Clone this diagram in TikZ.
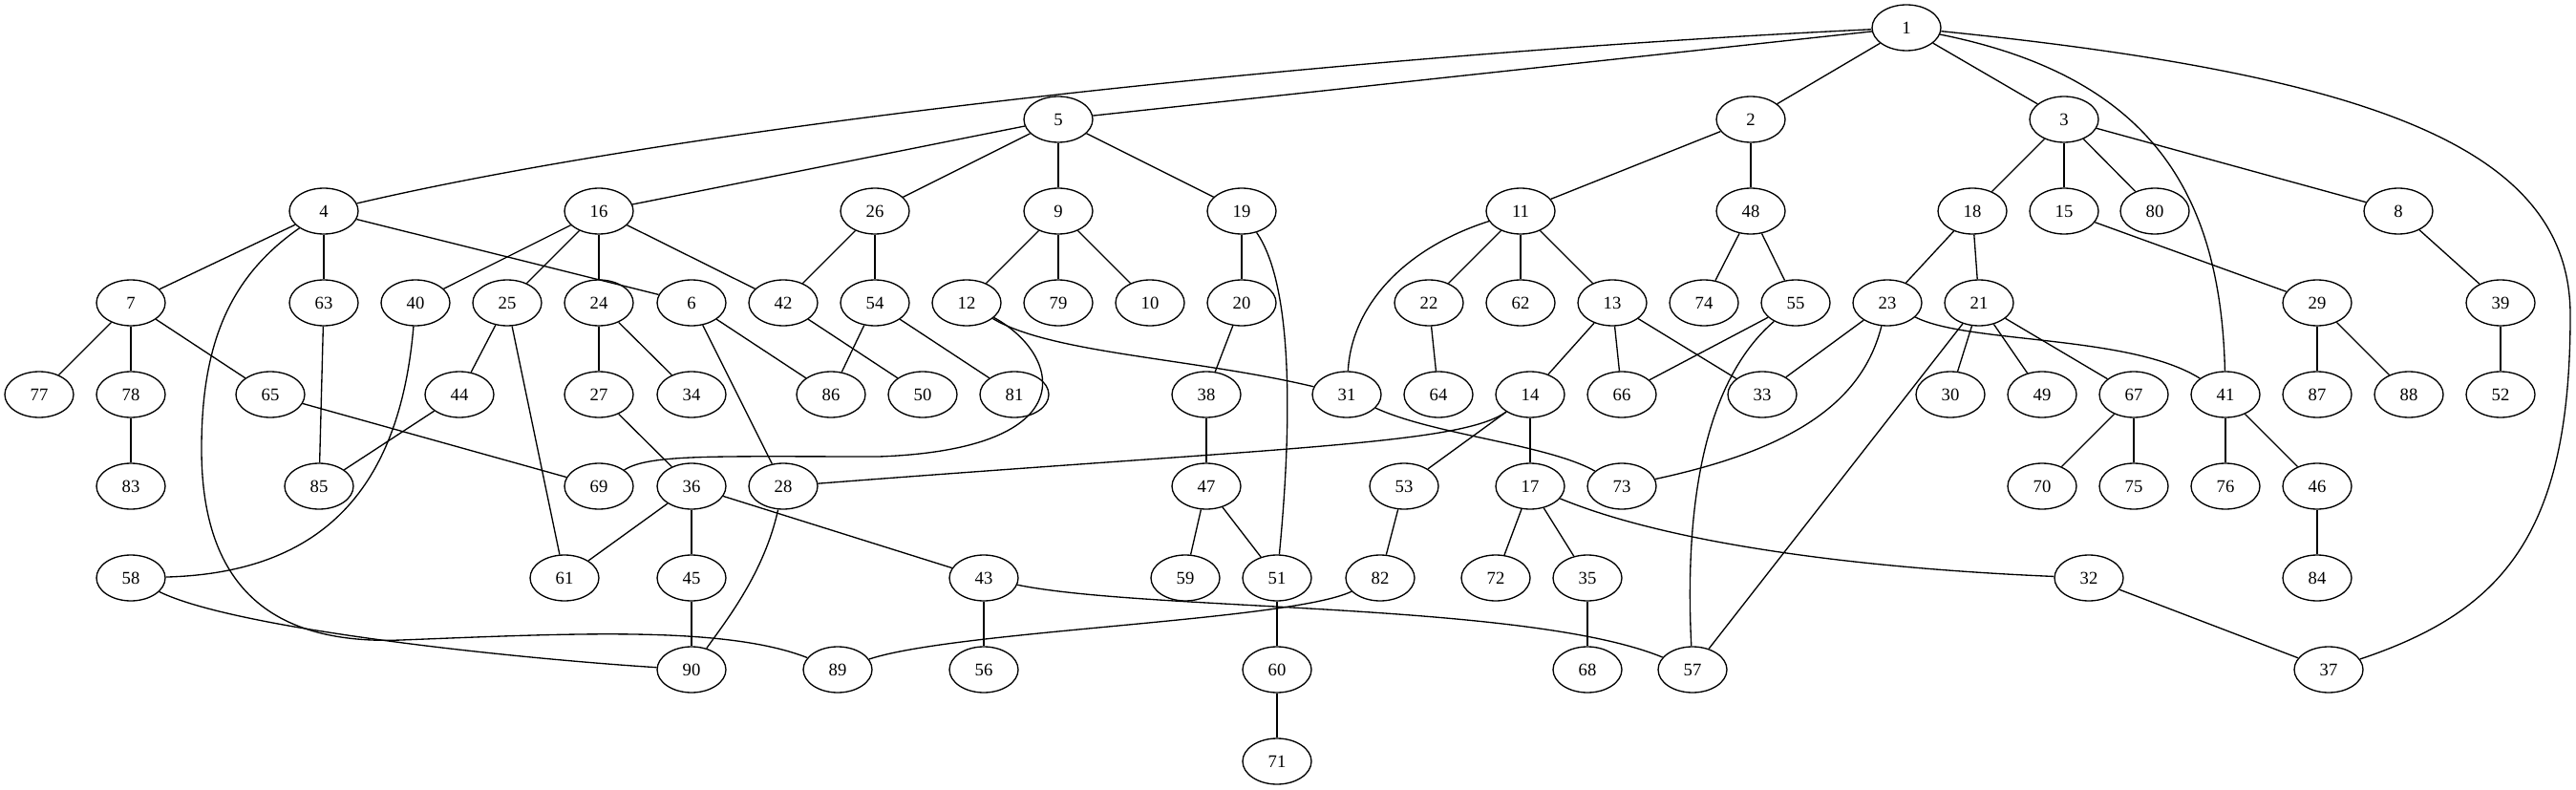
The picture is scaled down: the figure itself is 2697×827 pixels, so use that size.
\documentclass[tikz,border=0pt]{standalone}
\usepackage{fontspec}
\setmainfont{Liberation Serif}
\usetikzlibrary{shapes.geometric}

\begin{document}
\begin{tikzpicture}[x=0.75pt,y=-0.75pt,line width=1pt,
  v/.style={draw,ellipse,minimum width=54pt,minimum height=36pt,inner sep=0pt,
    font=\fontsize{14}{16}\selectfont}]
\useasboundingbox (0,0) rectangle (2697,827);
\node[v](1) at (1996,29) {1};
\node[v](5) at (1108,125) {5};
\node[v](2) at (1833,125) {2};
\node[v](3) at (2161,125) {3};
\node[v](4) at (339,221) {4};
\node[v](16) at (627,221) {16};
\node[v](26) at (916,221) {26};
\node[v](9) at (1108,221) {9};
\node[v](19) at (1300,221) {19};
\node[v](11) at (1592,221) {11};
\node[v](48) at (1833,221) {48};
\node[v](18) at (2065,221) {18};
\node[v](15) at (2161,221) {15};
\node[v](80) at (2256,221) {80};
\node[v](8) at (2511,221) {8};
\node[v](7) at (137,317) {7};
\node[v](63) at (339,317) {63};
\node[v](40) at (435,317) {40};
\node[v](25) at (531,317) {25};
\node[v](24) at (627,317) {24};
\node[v](6) at (724,317) {6};
\node[v](42) at (820,317) {42};
\node[v](54) at (916,317) {54};
\node[v](12) at (1012,317) {12};
\node[v](79) at (1108,317) {79};
\node[v](10) at (1204,317) {10};
\node[v](20) at (1300,317) {20};
\node[v](22) at (1496,317) {22};
\node[v](62) at (1592,317) {62};
\node[v](13) at (1688,317) {13};
\node[v](74) at (1784,317) {74};
\node[v](55) at (1880,317) {55};
\node[v](23) at (1976,317) {23};
\node[v](21) at (2072,317) {21};
\node[v](29) at (2426,317) {29};
\node[v](39) at (2618,317) {39};
\node[v](77) at (41,413) {77};
\node[v](78) at (137,413) {78};
\node[v](65) at (283,413) {65};
\node[v](44) at (481,413) {44};
\node[v](27) at (627,413) {27};
\node[v](34) at (724,413) {34};
\node[v](86) at (870,413) {86};
\node[v](50) at (966,413) {50};
\node[v](81) at (1062,413) {81};
\node[v](38) at (1263,413) {38};
\node[v](31) at (1410,413) {31};
\node[v](64) at (1506,413) {64};
\node[v](14) at (1602,413) {14};
\node[v](66) at (1698,413) {66};
\node[v](33) at (1845,413) {33};
\node[v](30) at (2042,413) {30};
\node[v](49) at (2138,413) {49};
\node[v](67) at (2234,413) {67};
\node[v](41) at (2330,413) {41};
\node[v](87) at (2426,413) {87};
\node[v](88) at (2522,413) {88};
\node[v](52) at (2618,413) {52};
\node[v](83) at (137,509) {83};
\node[v](85) at (334,509) {85};
\node[v](69) at (627,509) {69};
\node[v](36) at (724,509) {36};
\node[v](28) at (820,509) {28};
\node[v](47) at (1263,509) {47};
\node[v](53) at (1470,509) {53};
\node[v](17) at (1602,509) {17};
\node[v](73) at (1698,509) {73};
\node[v](70) at (2138,509) {70};
\node[v](75) at (2234,509) {75};
\node[v](76) at (2330,509) {76};
\node[v](46) at (2426,509) {46};
\node[v](58) at (137,605) {58};
\node[v](61) at (591,605) {61};
\node[v](45) at (724,605) {45};
\node[v](43) at (1030,605) {43};
\node[v](59) at (1241,605) {59};
\node[v](51) at (1337,605) {51};
\node[v](82) at (1445,605) {82};
\node[v](72) at (1566,605) {72};
\node[v](35) at (1662,605) {35};
\node[v](32) at (2187,605) {32};
\node[v](84) at (2426,605) {84};
\node[v](90) at (724,701) {90};
\node[v](89) at (877,701) {89};
\node[v](56) at (1030,701) {56};
\node[v](60) at (1337,701) {60};
\node[v](68) at (1662,701) {68};
\node[v](57) at (1772,701) {57};
\node[v](37) at (2438,701) {37};
\node[v](71) at (1337,797) {71};

\draw (1) -- (5);
\draw (1) .. controls (1450,55) and (750,125) .. (4);
\draw (1) -- (2);
\draw (1) -- (3);
\draw (1) .. controls (2250,80) and (2325,200) .. (41);
\draw (1) .. controls (2500,80) and (2691,160) .. (2691,330) .. controls (2691,560) and (2620,640) .. (37);
\draw (5) -- (16);
\draw (5) -- (26);
\draw (5) -- (9);
\draw (5) -- (19);
\draw (2) -- (11);
\draw (2) -- (48);
\draw (3) -- (18);
\draw (3) -- (15);
\draw (3) -- (80);
\draw (3) -- (8);
\draw (4) -- (7);
\draw (4) -- (63);
\draw (4) -- (6);
\draw (4) .. controls (240,290) and (211,360) .. (211,470) .. controls (211,620) and (290,675) .. (420,670) .. controls (600,663) and (760,655) .. (89);
\draw (16) -- (40);
\draw (16) -- (25);
\draw (16) -- (24);
\draw (16) -- (42);
\draw (26) -- (42);
\draw (26) -- (54);
\draw (9) -- (12);
\draw (9) -- (79);
\draw (9) -- (10);
\draw (19) -- (20);
\draw (19) .. controls (1355,300) and (1352,450) .. (51);
\draw (11) .. controls (1470,260) and (1415,320) .. (31);
\draw (11) -- (22);
\draw (11) -- (62);
\draw (11) -- (13);
\draw (48) -- (74);
\draw (48) -- (55);
\draw (18) -- (23);
\draw (18) -- (21);
\draw (15) -- (29);
\draw (8) -- (39);
\draw (7) -- (77);
\draw (7) -- (78);
\draw (7) -- (65);
\draw (63) -- (85);
\draw (40) .. controls (418,520) and (330,600) .. (58);
\draw (25) -- (44);
\draw (25) -- (61);
\draw (24) -- (27);
\draw (24) -- (34);
\draw (6) -- (86);
\draw (6) -- (28);
\draw (42) -- (50);
\draw (54) -- (86);
\draw (54) -- (81);
\draw (12) .. controls (1100,370) and (1250,375) .. (31);
\draw (12) .. controls (1110,370) and (1140,470) .. (920,478) .. controls (750,478) and (680,475) .. (69);
\draw (20) -- (38);
\draw (22) -- (64);
\draw (13) -- (14);
\draw (13) -- (66);
\draw (13) -- (33);
\draw (55) -- (66);
\draw (55) .. controls (1795,390) and (1762,500) .. (57);
\draw (23) -- (33);
\draw (23) .. controls (1950,420) and (1880,470) .. (73);
\draw (23) .. controls (2060,360) and (2230,350) .. (41);
\draw (21) -- (30);
\draw (21) -- (49);
\draw (21) -- (67);
\draw (21) -- (57);
\draw (29) -- (87);
\draw (29) -- (88);
\draw (39) -- (52);
\draw (78) -- (83);
\draw (65) -- (69);
\draw (44) -- (85);
\draw (27) -- (36);
\draw (31) .. controls (1500,455) and (1620,465) .. (73);
\draw (14) .. controls (1530,465) and (1350,468) .. (28);
\draw (14) -- (53);
\draw (14) -- (17);
\draw (67) -- (70);
\draw (67) -- (75);
\draw (41) -- (76);
\draw (41) -- (46);
\draw (38) -- (47);
\draw (36) -- (61);
\draw (36) -- (45);
\draw (36) -- (43);
\draw (28) .. controls (800,600) and (760,650) .. (90);
\draw (47) -- (59);
\draw (47) -- (51);
\draw (53) -- (82);
\draw (17) -- (72);
\draw (17) -- (35);
\draw (17) .. controls (1750,570) and (1950,595) .. (32);
\draw (46) -- (84);
\draw (58) .. controls (250,660) and (550,690) .. (90);
\draw (45) -- (90);
\draw (43) -- (56);
\draw (43) .. controls (1200,640) and (1600,630) .. (57);
\draw (51) -- (60);
\draw (82) .. controls (1350,650) and (1000,660) .. (89);
\draw (35) -- (68);
\draw (32) -- (37);
\draw (60) -- (71);
\end{tikzpicture}
\end{document}
